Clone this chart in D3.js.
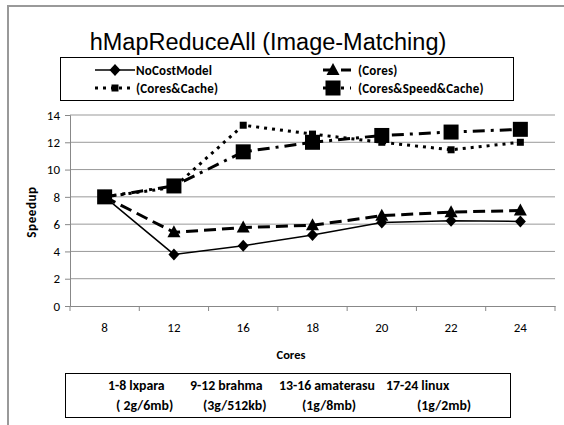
<!DOCTYPE html>
<html>
<head>
<meta charset="utf-8">
<script src="https://cdn.jsdelivr.net/npm/d3@7"></script>
<style>
  html, body { margin: 0; padding: 0; background: #fff; }
  svg { display: block; }
</style>
</head>
<body>
<svg id="chart" width="564" height="425"></svg>
<script>
// Core counts on the x axis
const cores = ["8", "12", "16", "18", "20", "22", "24"];
// Speedup per scheduling model
const noCostModel      = [8.0, 3.78, 4.42, 5.2, 6.12, 6.25, 6.2];
const coresOnly        = [8.0, 5.4, 5.75, 5.92, 6.62, 6.88, 7.0];
const coresCache       = [8.0, 8.7, 13.25, 12.6, 12.0, 11.45, 12.0];
const coresSpeedCache  = [8.0, 8.8, 11.3, 12.0, 12.5, 12.75, 12.95];
const yTicks = [0, 2, 4, 6, 8, 10, 12, 14];
const seriesNames = ["NoCostModel", "(Cores)", "(Cores&Cache)", "(Cores&Speed&Cache)"];
const machinesTop = ["1-8 lxpara", "9-12 brahma", "13-16 amaterasu", "17-24 linux"];
const machinesBottom = ["( 2g/6mb)", "(3g/512kb)", "(1g/8mb)", "(1g/2mb)"];

const svg = d3.select("#chart");
const bodyFont = "Carlito, Lato, 'Liberation Sans', sans-serif";

// outer frame
svg.append("path")
  .attr("d", "M8,430 L8,6 L570,6")
  .attr("fill", "none").attr("stroke", "#999").attr("stroke-width", 2);

// title
svg.append("text")
  .attr("x", 268).attr("y", 50)
  .attr("text-anchor", "middle")
  .attr("font-family", "'Liberation Sans', Arial, sans-serif")
  .attr("font-size", 23.5)
  .text("hMapReduceAll (Image-Matching)");

const x = d3.scaleBand().domain(cores).range([70, 555]);
const y = d3.scaleLinear().domain([0, 14]).range([306, 115]);

// gridlines
svg.append("g").selectAll("line").data(yTicks.filter(d => d > 0)).join("line")
  .attr("x1", 70).attr("x2", 555)
  .attr("y1", d => y(d)).attr("y2", d => y(d))
  .attr("stroke", "#999").attr("stroke-width", 1);

// axes
const yAxis = svg.append("g").attr("transform", "translate(70,0)")
  .call(d3.axisLeft(y).tickValues(yTicks).tickSize(5).tickPadding(5));
const xAxis = svg.append("g").attr("transform", "translate(0,306)")
  .call(d3.axisBottom(x).tickSize(0).tickPadding(17));
[yAxis, xAxis].forEach(g => {
  g.select(".domain").attr("stroke", "#888");
  g.selectAll(".tick line").attr("stroke", "#888");
  g.selectAll("text").attr("font-family", bodyFont).attr("font-size", 13).attr("fill", "#000");
});
// x tick marks at the category boundaries
const bounds = cores.map(c => x(c)).concat([x.range()[1]]);
svg.append("g").selectAll("line").data(bounds).join("line")
  .attr("x1", d => d).attr("x2", d => d).attr("y1", 306).attr("y2", 311)
  .attr("stroke", "#888");

// axis titles
svg.append("text").attr("transform", "translate(36,212) rotate(-90)")
  .attr("text-anchor", "middle").attr("font-family", bodyFont)
  .attr("font-weight", "bold").attr("font-size", 13).attr("letter-spacing", 0.6).text("Speedup");
svg.append("text").attr("x", 291).attr("y", 359)
  .attr("text-anchor", "middle").attr("font-family", bodyFont)
  .attr("font-weight", "bold").attr("font-size", 12.5).text("Cores");

// series styles
const styles = [
  { values: noCostModel, dash: null, width: 1.5, marker: "diamond" },
  { values: coresOnly, dash: "12,6", width: 3, marker: "triangle" },
  { values: coresCache, dash: "3,5", width: 3, marker: "smallsquare" },
  { values: coresSpeedCache, dash: "12,6,3,6", width: 3, marker: "bigsquare" }
];
const cx = c => x(c) + x.bandwidth() / 2;
const line = d3.line().x((d, i) => cx(cores[i])).y(d => y(d));

function drawMarker(g, type, px, py) {
  if (type === "diamond") {
    g.append("path").attr("d", `M${px},${py - 6}L${px + 5.5},${py}L${px},${py + 6}L${px - 5.5},${py}Z`);
  } else if (type === "triangle") {
    g.append("path").attr("d", `M${px},${py - 7}L${px + 6.5},${py + 5}L${px - 6.5},${py + 5}Z`);
  } else if (type === "smallsquare") {
    g.append("rect").attr("x", px - 3.5).attr("y", py - 3.5).attr("width", 7).attr("height", 7);
  } else {
    g.append("rect").attr("x", px - 7.5).attr("y", py - 7.5).attr("width", 15).attr("height", 15);
  }
}

// draw back-to-front so the large squares sit on top
[2, 3, 1, 0].forEach(k => {
  const s = styles[k];
  const g = svg.append("g");
  g.append("path").datum(s.values).attr("d", line)
    .attr("fill", "none").attr("stroke", "#000").attr("stroke-width", s.width)
    .attr("stroke-dasharray", s.dash);
  const mg = g.append("g").attr("fill", "#000");
  s.values.forEach((v, i) => drawMarker(mg, s.marker, cx(cores[i]), y(v)));
});

// legend
svg.append("rect").attr("x", 60.5).attr("y", 57.5).attr("width", 453).attr("height", 43)
  .attr("fill", "#fff").attr("stroke", "#000").attr("stroke-width", 1);
const legendPos = [[95, 70], [323, 70], [95, 88], [323, 88]];
const legendWidths = [40, 28, 40, 28];
styles.forEach((s, k) => {
  const [lx, ly] = legendPos[k];
  const g = svg.append("g");
  g.append("line").attr("x1", lx).attr("x2", lx + legendWidths[k]).attr("y1", ly).attr("y2", ly)
    .attr("stroke", "#000").attr("stroke-width", s.width).attr("stroke-dasharray", s.dash);
  const mg = g.append("g").attr("fill", "#000");
  const mx = k % 2 === 1 ? lx + 10 : lx + 20;
  drawMarker(mg, s.marker, mx, ly);
  g.append("text").attr("x", k % 2 === 0 ? 136 : 358).attr("y", ly + 4.5)
    .attr("font-family", bodyFont).attr("font-weight", "bold").attr("font-size", 13)
    .attr("letter-spacing", 0.2)
    .text(seriesNames[k]);
});

// machine description box
svg.append("rect").attr("x", 65.5).attr("y", 373.5).attr("width", 445).attr("height", 44)
  .attr("fill", "#fff").attr("stroke", "#000").attr("stroke-width", 1);
const topX = [108, 190, 279, 386];
const botX = [116, 203, 302, 417];
svg.append("g").selectAll("text").data(machinesTop).join("text")
  .attr("x", (d, i) => topX[i]).attr("y", 390)
  .attr("font-family", bodyFont).attr("font-weight", "bold").attr("font-size", 13.8).text(d => d);
svg.append("g").selectAll("text").data(machinesBottom).join("text")
  .attr("x", (d, i) => botX[i]).attr("y", 410)
  .attr("font-family", bodyFont).attr("font-weight", "bold").attr("font-size", 13.8).text(d => d);
</script>
</body>
</html>
